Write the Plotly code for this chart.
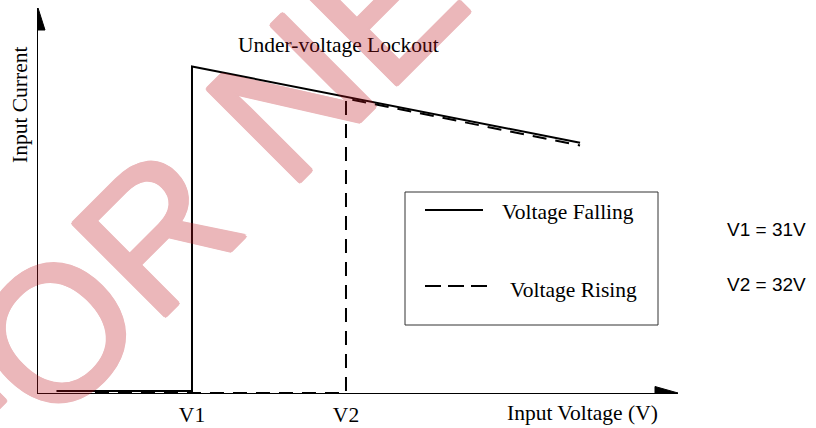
import plotly.graph_objects as go

# ---- data (schematic: input voltage in V, input current in arbitrary units) ----
falling_v = [30.12, 31.0, 31.0, 33.52]
falling_i = [0.5, 0.5, 84.8, 65.0]
rising_v = [30.37, 32.0, 32.0, 33.52]
rising_i = [0.0, 0.0, 76.5, 64.3]
tick_vals = [31, 32]
tick_text = ["V1", "V2"]
x_range = [30.0, 34.156]
y_range = [0.0, 100.0]

W, H = 816, 428
ML, MR, MT, MB = 38, 138, 8, 35
PW, PH = W - ML - MR, H - MT - MB

def px(x):
    return (x - ML) / PW

def py(y):
    return (H - MB - y) / PH

SERIF = "Liberation Serif, Times New Roman, serif"
SANS = "Liberation Sans, Arial, sans-serif"

fig = go.Figure()
fig.add_trace(go.Scatter(x=falling_v, y=falling_i, mode="lines", name="Voltage Falling",
                         line=dict(color="black", width=2), showlegend=False, hoverinfo="skip"))
fig.add_trace(go.Scatter(x=rising_v, y=rising_i, mode="lines", name="Voltage Rising",
                         line=dict(color="black", width=2, dash="14px,9px"), showlegend=False,
                         hoverinfo="skip"))

# axis arrow heads (data coords)
dx_len = 23 * (x_range[1] - x_range[0]) / PW
dy_half = 6.5 * (y_range[1] - y_range[0]) / PH
dy_len = 22 * (y_range[1] - y_range[0]) / PH
dx_half = 7 * (x_range[1] - x_range[0]) / PW
xm, ym = x_range[1], y_range[1]
x0, y0 = x_range[0], y_range[0]
shapes = [
    dict(type="path", xref="x", yref="y",
         path=f"M {xm} {y0} L {xm-dx_len} {y0+dy_half} L {xm-dx_len} {y0-dy_half} Z",
         fillcolor="black", line=dict(color="black", width=1)),
    dict(type="path", xref="x", yref="y",
         path=f"M {x0} {ym} L {x0-dx_half} {ym-dy_len} L {x0+dx_half} {ym-dy_len} Z",
         fillcolor="black", line=dict(color="black", width=1)),
    # legend box
    dict(type="rect", xref="paper", yref="paper", x0=px(405), x1=px(658), y0=py(192), y1=py(325),
         line=dict(color="#333333", width=1), fillcolor="rgba(0,0,0,0)"),
    dict(type="line", xref="paper", yref="paper", x0=px(425), x1=px(483), y0=py(210), y1=py(210),
         line=dict(color="black", width=2)),
    dict(type="line", xref="paper", yref="paper", x0=px(425), x1=px(487), y0=py(286), y1=py(286),
         line=dict(color="black", width=2, dash="16px,7px")),
]

WM = "rgb(190,20,30)"
wm_shadow = ", ".join(f"{a}px {b}px 0 {WM}" for a, b in
                      [(2, 0), (-2, 0), (0, 2), (0, -2), (1.5, 1.5), (-1.5, 1.5), (1.5, -1.5), (-1.5, -1.5)])

annotations = [
    dict(text="Under-voltage Lockout", x=px(338.5), y=py(45), xref="paper", yref="paper",
         showarrow=False, xanchor="center", yanchor="middle", font=dict(family=SERIF, size=21.5, color="black")),
    dict(text="Input Current", x=px(20), y=py(105), xref="paper", yref="paper", textangle=-90,
         showarrow=False, xanchor="center", yanchor="middle", font=dict(family=SERIF, size=21.5, color="black")),
    dict(text="Input Voltage (V)", x=px(582), y=py(413), xref="paper", yref="paper",
         showarrow=False, xanchor="center", yanchor="middle", font=dict(family=SERIF, size=21.5, color="black")),
    dict(text="Voltage Falling", x=px(500), y=py(212), xref="paper", yref="paper",
         showarrow=False, xanchor="left", yanchor="middle", font=dict(family=SERIF, size=21.5, color="black")),
    dict(text="Voltage Rising", x=px(508), y=py(290), xref="paper", yref="paper",
         showarrow=False, xanchor="left", yanchor="middle", font=dict(family=SERIF, size=21.5, color="black")),
    dict(text="V1 = 31V", x=px(725), y=py(229), xref="paper", yref="paper",
         showarrow=False, xanchor="left", yanchor="middle", font=dict(family=SANS, size=19, color="black")),
    dict(text="V2 = 32V", x=px(725), y=py(284), xref="paper", yref="paper",
         showarrow=False, xanchor="left", yanchor="middle", font=dict(family=SANS, size=19, color="black")),
    # watermark
    dict(text="FOR NEW", x=px(238), y=py(150), xref="paper", yref="paper", textangle=-45,
         showarrow=False, xanchor="center", yanchor="middle", opacity=0.3,
         font=dict(family=SANS, size=190, color=WM, shadow=wm_shadow)),
]

fig.update_layout(
    width=W, height=H, autosize=False,
    margin=dict(l=ML, r=MR, t=MT, b=MB, pad=0, autoexpand=False),
    paper_bgcolor="white", plot_bgcolor="white",
    showlegend=False,
    shapes=shapes,
    annotations=annotations,
    xaxis=dict(range=x_range, showgrid=False, zeroline=False, showline=True, linecolor="black",
               linewidth=1, ticks="", tickvals=tick_vals, ticktext=tick_text,
               ticklabelstandoff=2, automargin=False,
               tickfont=dict(family=SERIF, size=21.5, color="black"), fixedrange=True),
    yaxis=dict(range=y_range, showgrid=False, zeroline=False, showline=True, linecolor="black",
               linewidth=1, ticks="", showticklabels=False, automargin=False, fixedrange=True),
)

fig.write_html("out.html", config={"displayModeBar": False, "responsive": False},
               post_script="document.body.style.margin='0';")
